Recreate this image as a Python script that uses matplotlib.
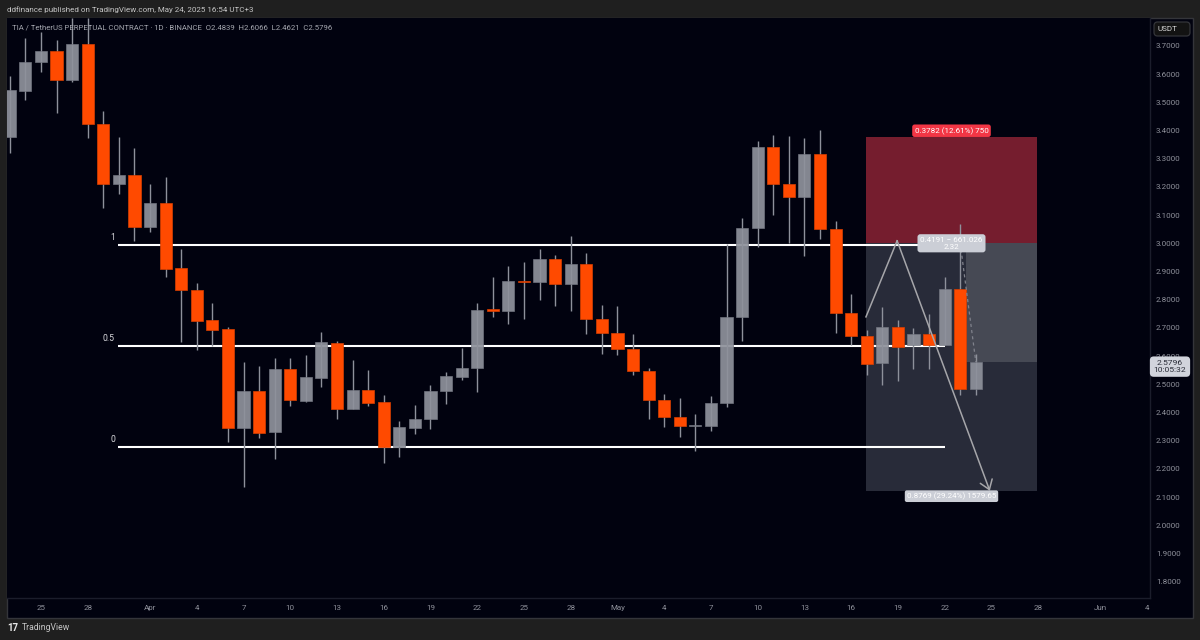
import matplotlib
matplotlib.use("Agg")
import matplotlib.pyplot as plt
from matplotlib.patches import Rectangle, FancyBboxPatch

plt.rcParams["font.family"] = ["Roboto", "DejaVu Sans"]

# day number, 0 = Mar 25
days = list(range(-2, 61))
opens = [3.377, 3.540, 3.643, 3.682, 3.579, 3.707, 3.423, 3.211, 3.243, 3.058, 3.143,
         2.913, 2.835, 2.728, 2.697, 2.345, 2.477, 2.331, 2.555, 2.441, 2.523, 2.647,
         2.413, 2.480, 2.438, 2.278, 2.345, 2.377, 2.477, 2.526, 2.558, 2.767, 2.760,
         2.867, 2.863, 2.945, 2.856, 2.927, 2.732, 2.682, 2.625, 2.548, 2.445, 2.384,
         2.352, 2.352, 2.434, 2.739, 3.055, 3.342, 3.211, 3.165, 3.317, 3.051, 2.753,
         2.672, 2.576, 2.704, 2.640, 2.679, 2.640, 2.838, 2.4839]
highs = [3.594, 3.728, 3.750, 3.721, 3.800, 3.800, 3.470, 3.377, 3.338, 3.211, 3.235,
         2.980, 2.860, 2.789, 2.704, 2.579, 2.565, 2.594, 2.594, 2.604, 2.686, 2.654,
         2.587, 2.551, 2.463, 2.370, 2.427, 2.498, 2.544, 2.629, 2.789, 2.881, 2.920,
         2.934, 2.980, 2.959, 3.026, 2.966, 2.782, 2.778, 2.679, 2.558, 2.466, 2.452,
         2.395, 2.459, 2.998, 3.090, 3.363, 3.384, 3.381, 3.374, 3.402, 3.080, 2.821,
         2.693, 2.775, 2.728, 2.700, 2.750, 2.881, 3.069, 2.6066]
lows = [3.321, 3.509, 3.608, 3.462, 3.572, 3.374, 3.126, 3.175, 3.009, 3.040, 2.881,
        2.650, 2.622, 2.636, 2.296, 2.136, 2.310, 2.235, 2.423, 2.438, 2.491, 2.377,
        2.413, 2.423, 2.221, 2.243, 2.324, 2.342, 2.430, 2.516, 2.473, 2.739, 2.714,
        2.732, 2.799, 2.778, 2.760, 2.679, 2.608, 2.604, 2.533, 2.377, 2.349, 2.313,
        2.264, 2.335, 2.420, 2.654, 2.987, 3.101, 3.001, 2.955, 3.016, 2.682, 2.640,
        2.533, 2.498, 2.512, 2.555, 2.555, 2.640, 2.463, 2.4621]
closes = [3.544, 3.643, 3.682, 3.579, 3.707, 3.423, 3.211, 3.243, 3.058, 3.143, 2.909,
          2.835, 2.725, 2.693, 2.345, 2.477, 2.328, 2.555, 2.445, 2.526, 2.650, 2.413,
          2.480, 2.434, 2.278, 2.349, 2.377, 2.477, 2.530, 2.558, 2.764, 2.760, 2.867,
          2.863, 2.945, 2.856, 2.927, 2.732, 2.682, 2.625, 2.548, 2.445, 2.384, 2.352,
          2.356, 2.434, 2.739, 3.055, 3.342, 3.211, 3.165, 3.317, 3.051, 2.753, 2.672,
          2.572, 2.704, 2.633, 2.679, 2.640, 2.838, 2.4839, 2.5796]

price_ticks = [1.8, 1.9, 2.0, 2.1, 2.2, 2.3, 2.4, 2.5, 2.6, 2.7, 2.8, 2.9, 3.0, 3.1,
               3.2, 3.3, 3.4, 3.5, 3.6, 3.7]
time_ticks = [0, 3, 7, 10, 13, 16, 19, 22, 25, 28, 31, 34, 37, 40, 43, 46, 49, 52, 55,
              58, 61, 64, 68, 71]
time_labels = ["25", "28", "Apr", "4", "7", "10", "13", "16", "19", "22", "25", "28",
               "May", "4", "7", "10", "13", "16", "19", "22", "25", "28", "Jun", "4"]

fib_levels = [2.994, 2.636, 2.278]
fib_labels = ["1", "0.5", "0"]
fib_span = [4.94, 58.0]

stop_price = 3.3782
entry_price = 3.0
target_price = 2.1231
last_price = 2.5796
box_span = [52.95, 59.4, 63.93]
path_days = [52.95, 54.95, 60.9]
path_prices = [2.739, 3.009, 2.122]

BG = "#01020f"
FRAME = "#1f1f1f"
UP = "#8e919b"
DOWN = "#ff4a00"
W, H = 1200, 640

fig = plt.figure(figsize=(12, 6.4), dpi=100, facecolor=FRAME)


def fx(px):
    return px / W


def fy(px):
    return 1 - px / H


# pane behind chart + price scale + time scale
fig.add_artist(Rectangle((fx(7), fy(618)), fx(1186), 600 / H, transform=fig.transFigure,
                         facecolor=BG, edgecolor="#34353a", linewidth=1, zorder=-1))

ax = fig.add_axes([fx(7), fy(598), 1143 / W, 580 / H], facecolor=BG)
ax.set_xlim(-2.18, 71.18)
ax.set_ylim(1.742, 3.799)

for side in ("top", "left"):
    ax.spines[side].set_visible(False)
for side in ("right", "bottom"):
    ax.spines[side].set_color("#1b1d2b")
    ax.spines[side].set_linewidth(1)

ax.yaxis.tick_right()
ax.set_yticks(price_ticks)
ax.set_yticklabels([f"{p:.4f}" for p in price_ticks])
ax.set_xticks(time_ticks)
ax.set_xticklabels(time_labels)
ax.tick_params(axis="y", length=0, pad=4.2, labelsize=5.8, labelcolor="#8f919b")
ax.tick_params(axis="x", length=0, pad=5, labelsize=5.8, labelcolor="#8f919b")

# position tool
ax.fill_between(box_span[:2], target_price, entry_price, color="#282b39", lw=0, zorder=1)
ax.fill_between(box_span[1:], target_price, last_price, color="#282b39", lw=0, zorder=1)
ax.fill_between(box_span[1:], last_price, entry_price, color="#464954", lw=0, zorder=1)

# fib lines
for level, label in zip(fib_levels, fib_labels):
    ax.plot(fib_span, [level, level], color="white", lw=1.5, solid_capstyle="butt", zorder=2)
    ax.annotate(label, xy=(fib_span[0], level), xytext=(-2.2, 1.8), textcoords="offset points",
                ha="right", va="bottom", fontsize=6.2, color="#d8d8dc", zorder=6)

ax.fill_between([box_span[0], box_span[2]], entry_price, stop_price, color="#751d2e",
                lw=0, zorder=2.5)

# candles
for d, o, h, l, c in zip(days, opens, highs, lows, closes):
    up = c >= o
    ax.vlines(d, l, h, color=UP, lw=1, zorder=3)
    ax.bar(d, abs(c - o), bottom=min(o, c), width=0.78,
           color=UP if up else DOWN, alpha=0.93 if up else 1,
           edgecolor="#757882" if up else "#d93f00", linewidth=0.5, zorder=3.5)

# projected path
ax.plot(path_days[:2], path_prices[:2], color="#a6a6aa", lw=1.1, zorder=4)
ax.annotate("", xy=(path_days[2], path_prices[2]), xytext=(path_days[1], path_prices[1]),
            arrowprops=dict(arrowstyle="->,head_length=0.5,head_width=0.35", color="#a6a6aa",
                            lw=1.1, shrinkA=0, shrinkB=0, mutation_scale=13), zorder=4)
ax.plot([59, 60], [entry_price, last_price], color="#80828c", lw=0.9, ls=(0, (2.5, 2.5)), zorder=4)

label_x = (box_span[0] + box_span[2]) / 2
ax.text(label_x, stop_price + 0.021, "0.3782 (12.61%) 750", fontsize=5.8, color="white",
        ha="center", va="center", zorder=6,
        bbox=dict(boxstyle="round,pad=0.3", fc="#f23645", ec="none"))
ax.text(label_x, entry_price, "0.4191 − 661.026\n2.32", fontsize=5.8, color="white",
        ha="center", va="center", linespacing=1.1, zorder=6,
        bbox=dict(boxstyle="round,pad=0.35", fc="#cbced6", ec="none"))
ax.text(label_x, target_price - 0.02, "0.8769 (29.24%) 1579.65", fontsize=5.8, color="white",
        ha="center", va="center", zorder=6,
        bbox=dict(boxstyle="round,pad=0.25", fc="#cbced6", ec="none"))

# last price tag over the scale
ax.text(1.0175, last_price - 0.017, f"{last_price:.4f}\n10:05:32", transform=ax.get_yaxis_transform(),
        fontsize=6.1, color="#2a2d38", ha="center", va="center", linespacing=1.15,
        clip_on=False, zorder=7,
        bbox=dict(boxstyle="round,pad=0.45", fc="#d1d4dc", ec="none"))

# header / footer texts
fig.text(fx(7), fy(10), "ddfinance published on TradingView.com, May 24, 2025 16:54 UTC+3",
         fontsize=5.75, color="#c6c6c6", va="center")
fig.text(fx(12), fy(27),
         "TIA / TetherUS PERPETUAL CONTRACT · 1D · BINANCE  O2.4839  H2.6066  L2.4621  C2.5796",
         fontsize=5.55, color="#a4a6ae", va="center", zorder=5)
fig.add_artist(FancyBboxPatch((fx(1154), fy(36)), fx(36), 14 / H, transform=fig.transFigure,
                              boxstyle="round,pad=0,rounding_size=0.003", mutation_aspect=1.9,
                              facecolor="#131313", edgecolor="#34353a", linewidth=0.9, zorder=4))
fig.text(fx(1158), fy(29), "USDT", fontsize=5.8, color="#d6d6d6", va="center", zorder=5)
fig.text(fx(7), fy(628), "17", fontsize=7, fontweight="bold", color="#e6e6e6", va="center")
fig.text(fx(22), fy(628), "TradingView", fontsize=6.2, color="#c6c6c6", va="center")

fig.savefig("out.png", dpi=100, facecolor=FRAME)
